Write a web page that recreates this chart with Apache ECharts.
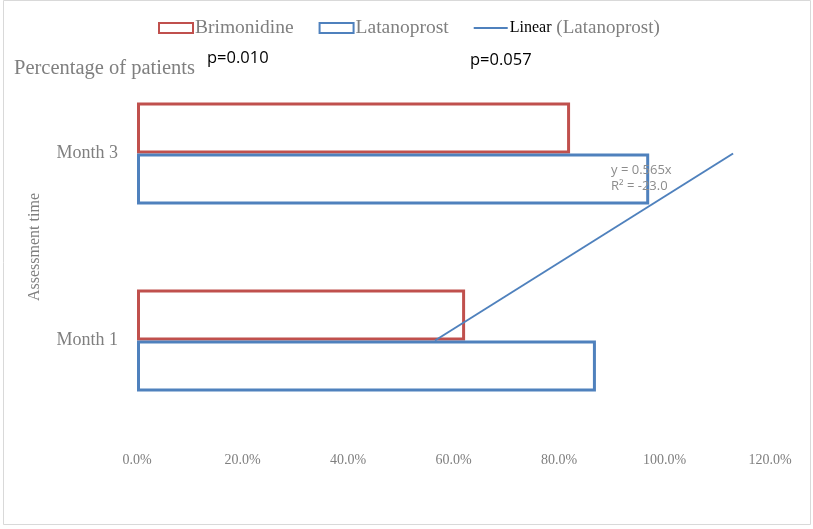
<!DOCTYPE html>
<html>
<head>
<meta charset="utf-8">
<script src="https://cdn.jsdelivr.net/npm/echarts@6/dist/echarts.min.js"></script>
<style>
  html, body { margin: 0; padding: 0; background: #fff; }
  #chart { width: 813px; height: 529px; }
</style>
</head>
<body>
<div id="chart"></div>
<script>
// data
const categories = ['Month 1', 'Month 3']
const brimonidine = [62.2, 82.1]
const latanoprost = [87.0, 97.1]
const trendSlope = 0.565 // y = 0.565x, x = category index (1, 2)
const trendLine = categories.map((c, i) => [trendSlope * (i + 1) * 100, c])
const xTicks = [0, 20, 40, 60, 80, 100, 120]

const serif = '"Liberation Serif", "Times New Roman", serif'
const sans = '"Open Sans", "Noto Sans", sans-serif'
const gray = '#7f7f7f'

const myChart = echarts.init(document.getElementById('chart'))

const option = {
  animation: false,
  backgroundColor: '#fff',
  legend: {
    top: 13,
    left: 153,
    itemWidth: 34,
    itemHeight: 10,
    itemGap: 25,
    data: [
      { name: 'Brimonidine', icon: 'rect' },
      { name: 'Latanoprost', icon: 'rect' },
      { name: 'Linear (Latanoprost)', icon: 'path://M0,0 H32 V2 H0 Z' }
    ],
    formatter: name => name === 'Linear (Latanoprost)'
      ? '{a|Linear} {b|(Latanoprost)}'
      : name,
    textStyle: {
      fontFamily: serif,
      fontSize: 19.5,
      color: gray,
      padding: [0, 0, 0, -3],
      rich: {
        a: { fontFamily: serif, fontSize: 16, color: '#000' },
        b: { fontFamily: serif, fontSize: 19, color: gray }
      }
    }
  },
  grid: {
    left: 137,
    right: 43,
    top: 60,
    bottom: 95
  },
  xAxis: {
    type: 'value',
    min: 0,
    max: 120,
    interval: 20,
    axisLine: { show: false },
    axisTick: { show: false },
    splitLine: { show: false },
    axisLabel: {
      margin: 19,
      fontFamily: serif,
      fontSize: 14,
      color: gray,
      formatter: v => xTicks.includes(v) ? v.toFixed(1) + '%' : ''
    }
  },
  yAxis: {
    type: 'category',
    data: categories,
    name: 'Assessment time',
    nameLocation: 'middle',
    nameGap: 94,
    nameTextStyle: { fontFamily: serif, fontSize: 16, color: gray },
    axisLine: { show: false },
    axisTick: { show: false },
    axisLabel: {
      margin: 19,
      fontFamily: serif,
      fontSize: 18,
      color: gray
    }
  },
  series: [
    {
      name: 'Brimonidine',
      type: 'bar',
      data: brimonidine,
      barWidth: 51,
      barGap: '0%',
      itemStyle: { color: '#fff', borderColor: '#c0504d', borderWidth: 3 }
    },
    {
      name: 'Latanoprost',
      type: 'bar',
      data: latanoprost,
      barWidth: 51,
      barGap: '0%',
      itemStyle: { color: '#fff', borderColor: '#4f81bd', borderWidth: 3 }
    },
    {
      name: 'Linear (Latanoprost)',
      type: 'line',
      data: trendLine,
      symbol: 'none',
      z: 5,
      lineStyle: { color: '#4f81bd', width: 2 },
      itemStyle: { color: '#4f81bd' }
    }
  ],
  graphic: [
    {
      type: 'rect',
      shape: { x: 3.5, y: 0.5, width: 807, height: 524 },
      style: { fill: 'none', stroke: '#d9d9d9', lineWidth: 1 },
      silent: true
    },
    {
      type: 'text',
      left: 14,
      top: 58,
      style: { text: 'Percentage of patients', font: '20.5px ' + serif, fill: gray }
    },
    {
      type: 'text',
      left: 207,
      top: 50,
      style: { text: 'p=0.010', font: '16.5px ' + sans, fill: '#000' }
    },
    {
      type: 'text',
      left: 470,
      top: 52,
      style: { text: 'p=0.057', font: '16.5px ' + sans, fill: '#000' }
    },
    {
      type: 'text',
      left: 611,
      top: 162,
      z: 10,
      style: {
        text: 'y = 0.565x\nR² = -23.0',
        font: '13px ' + sans,
        fill: '#8c8c8c',
        lineHeight: 16
      }
    }
  ]
}

myChart.setOption(option)
</script>
</body>
</html>
